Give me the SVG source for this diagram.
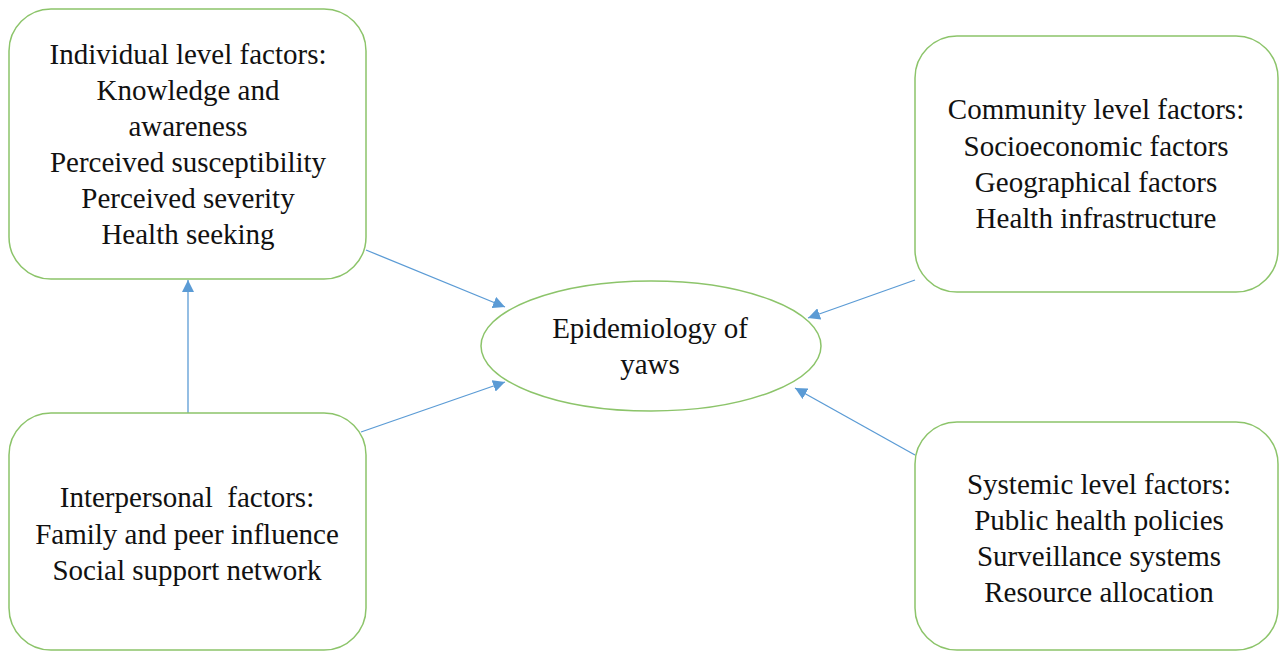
<svg xmlns="http://www.w3.org/2000/svg" width="1281" height="651" viewBox="0 0 1281 651">
<defs>
<style>
.box{fill:#fff;stroke:#8CC46A;stroke-width:1.5}
.t{font-family:'Liberation Serif','Times New Roman','DejaVu Serif',serif;font-size:29px;fill:#111;text-anchor:middle}
.c{stroke:#5B9BD5;stroke-width:1.3;fill:none;marker-end:url(#ah)}
</style>
<marker id="ah" viewBox="0 0 10 10" refX="10" refY="5" markerWidth="12" markerHeight="12" markerUnits="userSpaceOnUse" orient="auto">
<path d="M0,0 L10,5 L0,10 z" fill="#5B9BD5"/>
</marker>
</defs>
<rect width="1281" height="651" fill="#fff"/>
<g id="connectors">
<line class="c" x1="366" y1="250" x2="505" y2="307"/>
<line class="c" x1="915" y1="280" x2="808" y2="318"/>
<line class="c" x1="361" y1="432" x2="505" y2="382"/>
<line class="c" x1="915" y1="455" x2="795" y2="388"/>
<line class="c" x1="188" y1="413" x2="188" y2="280"/>
</g>
<g id="individual">
<rect class="box" x="9" y="9" width="357" height="270" rx="42"/>
<text class="t" font-family="Liberation Serif, serif"><tspan x="188" y="64">Individual level factors:</tspan><tspan x="188" y="100">Knowledge and</tspan><tspan x="188" y="136">awareness</tspan><tspan x="188" y="172">Perceived susceptibility</tspan><tspan x="188" y="208">Perceived severity</tspan><tspan x="188" y="244">Health seeking</tspan></text>
</g>
<g id="community">
<rect class="box" x="915" y="36" width="363" height="256" rx="42"/>
<text class="t"><tspan x="1096" y="119">Community level factors:</tspan><tspan x="1096" y="156">Socioeconomic factors</tspan><tspan x="1096" y="192">Geographical factors</tspan><tspan x="1096" y="228">Health infrastructure</tspan></text>
</g>
<g id="interpersonal">
<rect class="box" x="9" y="413" width="357" height="237" rx="42"/>
<text class="t" xml:space="preserve"><tspan x="187" y="507">Interpersonal  factors:</tspan><tspan x="187" y="544">Family and peer influence</tspan><tspan x="187" y="580">Social support network</tspan></text>
</g>
<g id="systemic">
<rect class="box" x="915" y="422" width="363" height="228" rx="42"/>
<text class="t"><tspan x="1099" y="494">Systemic level factors:</tspan><tspan x="1099" y="530">Public health policies</tspan><tspan x="1099" y="566">Surveillance systems</tspan><tspan x="1099" y="602">Resource allocation</tspan></text>
</g>
<g id="epidemiology">
<ellipse class="box" cx="651" cy="346" rx="170" ry="65"/>
<text class="t"><tspan x="650" y="338">Epidemiology of</tspan><tspan x="650" y="374">yaws</tspan></text>
</g>
</svg>
